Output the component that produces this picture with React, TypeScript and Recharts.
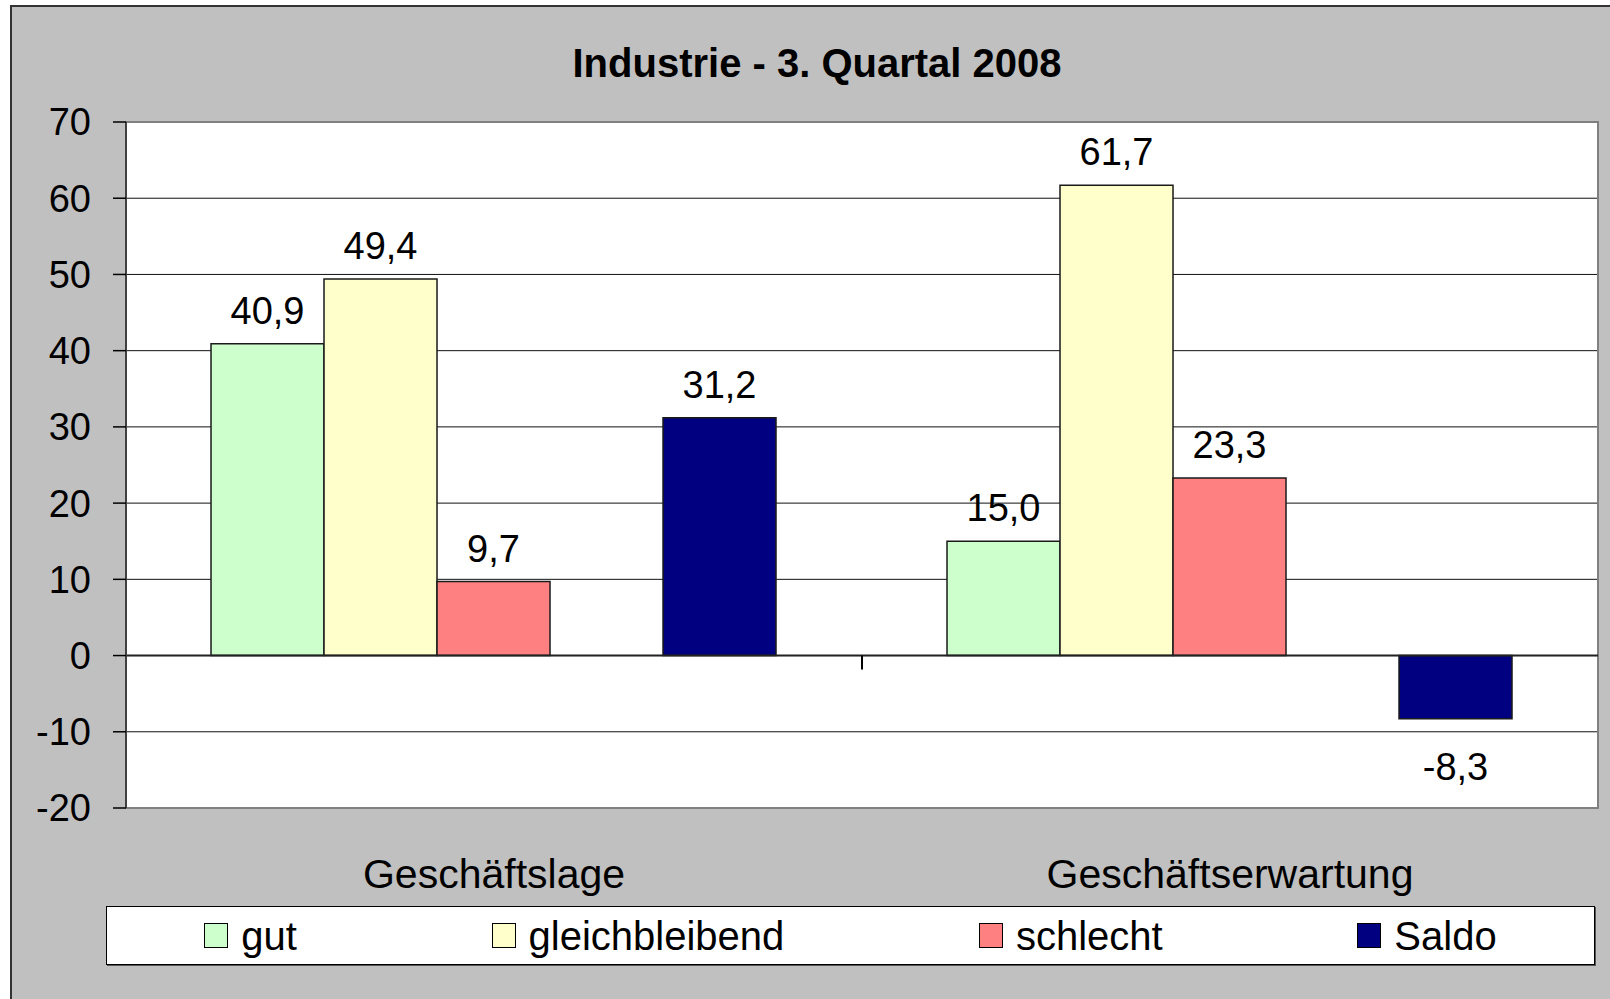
import { BarChart, Bar, XAxis, YAxis, CartesianGrid, ReferenceLine, ReferenceArea, LabelList, Legend } from 'recharts';

const kategorien = ['Geschäftslage', 'Geschäftserwartung'];
const gut = [40.9, 15.0];
const gleichbleibend = [49.4, 61.7];
const schlecht = [9.7, 23.3];
const saldo = [31.2, -8.3];
const yTicks = [-20, -10, 0, 10, 20, 30, 40, 50, 60, 70];
const serienNamen = ['gut', 'gleichbleibend', 'schlecht', 'Saldo'];

const FONT = '"Liberation Sans", Arial, Helvetica, sans-serif';

const chartData = kategorien.map((kategorie, i) => ({
  kategorie,
  gut: gut[i],
  gleichbleibend: gleichbleibend[i],
  schlecht: schlecht[i],
  saldo: saldo[i],
}));

const fmt = (v: number) => v.toFixed(1).replace('.', ',');

function BarValueLabel(props: any) {
  const vb = props.viewBox || {};
  const x = props.x ?? vb.x;
  const y = props.y ?? vb.y;
  const width = props.width ?? vb.width;
  const height = props.height ?? vb.height;
  const value = Number(props.value);
  if (!Number.isFinite(value)) return null;
  const top = Math.min(y, y + height);
  const bottom = Math.max(y, y + height);
  const ty = value >= 0 ? top - 20 : bottom + 61;
  return (
    <text x={x + width / 2} y={ty} textAnchor="middle" fontSize={38} fontFamily={FONT} fill="#000">
      {fmt(value)}
    </text>
  );
}

function CategoryTick({ x, y, payload }: any) {
  return (
    <text x={x} y={y + 80} textAnchor="middle" fontSize={41} fontFamily={FONT} fill="#000">
      {payload.value}
    </text>
  );
}

// zero line with the category divider tick in the middle
function ZeroLine({ x1, y1, x2, y2 }: any) {
  const mid = (x1 + x2) / 2;
  return (
    <g>
      <line x1={x1} y1={y1} x2={x2} y2={y2} stroke="#222" strokeWidth={2} />
      <line x1={mid} y1={y1} x2={mid} y2={y1 + 14} stroke="#000" strokeWidth={2} />
    </g>
  );
}

function LegendBox({ payload }: any) {
  const items = (payload || [])
    .filter((p: any) => p.type !== 'none' && serienNamen.includes(p.value))
    .sort((a: any, b: any) => serienNamen.indexOf(a.value) - serienNamen.indexOf(b.value));
  return (
    <div
      style={{
        display: 'flex',
        justifyContent: 'space-around',
        alignItems: 'center',
        height: '100%',
        fontFamily: FONT,
        fontSize: 40,
      }}
    >
      {items.map((item: any) => (
        <div key={item.value} style={{ display: 'flex', alignItems: 'center' }}>
          <span
            style={{
              display: 'inline-block',
              width: 24,
              height: 25,
              boxSizing: 'border-box',
              background: item.color,
              border: '1.5px solid #000',
              marginRight: 13,
            }}
          />
          <span style={{ lineHeight: '46px' }}>{item.value}</span>
        </div>
      ))}
    </div>
  );
}

export default function App() {
  return (
    <div style={{ position: 'absolute', left: 0, top: 0, width: 1610, height: 999, overflow: 'hidden', background: '#fff' }}>
      <div
        style={{
          position: 'absolute',
          left: 10,
          top: 5,
          width: 1660,
          height: 1040,
          background: '#c0c0c0',
          border: '2px solid #333',
        }}
      />
      <div
        style={{
          position: 'absolute',
          left: 0,
          top: 43,
          width: 1634,
          textAlign: 'center',
          fontFamily: FONT,
          fontWeight: 'bold',
          fontSize: 40,
          lineHeight: '41px',
          color: '#000',
        }}
      >
        Industrie - 3. Quartal 2008
      </div>
      <div style={{ position: 'absolute', left: 0, top: 0 }}>
        <BarChart
          width={1610}
          height={999}
          data={chartData}
          margin={{ top: 122, right: 12, left: 0, bottom: 52 }}
          barCategoryGap="11.55%"
          barGap={0}
        >
          <CartesianGrid vertical={false} stroke="#111" strokeWidth={1} fill="#fff" fillOpacity={1} />
          <ReferenceArea y1={-20} y2={70} fill="none" stroke="#808080" strokeWidth={2} ifOverflow="visible" />
          <XAxis
            dataKey="kategorie"
            axisLine={false}
            tickLine={false}
            tickSize={0}
            tickMargin={0}
            height={80}
            tick={<CategoryTick />}
            interval={0}
          />
          <YAxis
            domain={[-20, 70]}
            ticks={yTicks}
            interval={0}
            width={126}
            tickSize={13}
            tickMargin={22}
            axisLine={{ stroke: '#404040', strokeWidth: 2 }}
            tickLine={{ stroke: '#000', strokeWidth: 1.5 }}
            tick={{ fontSize: 38, fontFamily: FONT, fill: '#000' }}
          />
          <Legend
            verticalAlign="bottom"
            content={<LegendBox />}
            wrapperStyle={{
              left: 106,
              bottom: 34,
              width: 1487,
              height: 57,
              background: '#fff',
              border: '1px solid #000',
              boxShadow: '1px 1px 0 #555',
            }}
          />
          <Bar dataKey="gut" name="gut" fill="#CCFFCC" stroke="#1a1a1a" strokeWidth={1.5} isAnimationActive={false}>
            <LabelList dataKey="gut" content={<BarValueLabel />} />
          </Bar>
          <Bar dataKey="gleichbleibend" name="gleichbleibend" fill="#FFFFCC" stroke="#1a1a1a" strokeWidth={1.5} isAnimationActive={false}>
            <LabelList dataKey="gleichbleibend" content={<BarValueLabel />} />
          </Bar>
          <Bar dataKey="schlecht" name="schlecht" fill="#FF8080" stroke="#1a1a1a" strokeWidth={1.5} isAnimationActive={false}>
            <LabelList dataKey="schlecht" content={<BarValueLabel />} />
          </Bar>
          <Bar dataKey="leer" legendType="none" fill="none" isAnimationActive={false} />
          <Bar dataKey="saldo" name="Saldo" fill="#000080" stroke="#1a1a1a" strokeWidth={1.5} isAnimationActive={false}>
            <LabelList dataKey="saldo" content={<BarValueLabel />} />
          </Bar>
          <ReferenceLine y={0} shape={<ZeroLine />} />
        </BarChart>
      </div>
    </div>
  );
}
